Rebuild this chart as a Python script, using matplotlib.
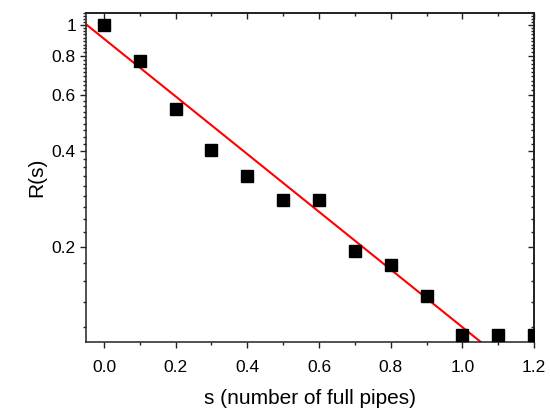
import numpy as np
import matplotlib
matplotlib.use("Agg")
from matplotlib import pyplot as plt
from matplotlib.ticker import MultipleLocator, FuncFormatter

# data
s_vals = [0.0, 0.1, 0.2, 0.3, 0.4, 0.5, 0.6, 0.7, 0.8, 0.9, 1.0, 1.1, 1.2]
R_vals = [1.0, 0.77, 0.543, 0.403, 0.334, 0.281, 0.281, 0.193, 0.175, 0.140, 0.105, 0.105, 0.105]

# exponential fit R = A*exp(-k*s)
fit_amp = 0.905
fit_rate = 2.095
fit_range = [-0.05, 1.2]

plt.rcParams['font.family'] = ['Liberation Sans', 'DejaVu Sans']

fig = plt.figure(figsize=(5.5, 4.11), dpi=100)
ax = fig.add_axes([0.1564, 0.1679, 0.971 - 0.1564, 0.9684 - 0.1679])

s_line = np.linspace(fit_range[0], fit_range[1], 200)
ax.plot(s_line, fit_amp * np.exp(-fit_rate * s_line), c='red', lw=1.5, zorder=2)
ax.plot(s_vals, R_vals, ls='none', marker='s', ms=9.3, c='black', zorder=3)

ax.set_yscale('log')
ax.set_xlim(-0.05, 1.2)
ax.set_ylim(0.1, 1.091)

ax.xaxis.set_major_locator(MultipleLocator(0.2))
ax.xaxis.set_minor_locator(MultipleLocator(0.1))
ax.xaxis.set_major_formatter(FuncFormatter(lambda v, p: '%.1f' % v))
ax.yaxis.set_major_locator(MultipleLocator(0.2))
ax.yaxis.set_minor_locator(MultipleLocator(0.2 / 9))
ax.yaxis.set_major_formatter(FuncFormatter(lambda v, p: '%g' % round(v, 3)))
ax.yaxis.set_minor_formatter(FuncFormatter(lambda v, p: ''))

for sp in ax.spines.values():
    sp.set_linewidth(1.1)
    sp.set_color('#222222')

ax.tick_params(axis='both', which='major', direction='out', length=4.3, width=1.0,
               labelsize=12.5, color='#222222')
ax.tick_params(axis='x', which='major', pad=9)
ax.tick_params(axis='y', which='major', pad=3)
ax.tick_params(axis='both', which='minor', direction='out', length=2.4, width=1.0, color='#222222')
# top and right ticks point inward
ax2 = ax.secondary_xaxis('top')
ax2.xaxis.set_major_locator(MultipleLocator(0.2))
ax2.xaxis.set_minor_locator(MultipleLocator(0.1))
ax2.tick_params(which='major', direction='in', length=4.3, width=1.0, labeltop=False, color='#222222')
ax2.tick_params(which='minor', direction='in', length=2.2, width=1.0, color='#222222')
ax2.spines['top'].set_linewidth(1.1)
ax3 = ax.secondary_yaxis('right')
ax3.yaxis.set_major_locator(MultipleLocator(0.2))
ax3.yaxis.set_minor_locator(MultipleLocator(0.2 / 9))
ax3.tick_params(which='major', direction='in', length=4.3, width=1.0, labelright=False, color='#222222')
ax3.tick_params(which='minor', direction='in', length=2.2, width=1.0, color='#222222')
ax3.yaxis.set_minor_formatter(FuncFormatter(lambda v, p: ''))
ax3.spines['right'].set_linewidth(1.1)

ax.set_xlabel('s (number of full pipes)', fontsize=15, labelpad=10)
ax.set_ylabel('R(s)', fontsize=15, labelpad=4)

fig.savefig('out.png', dpi=100)
